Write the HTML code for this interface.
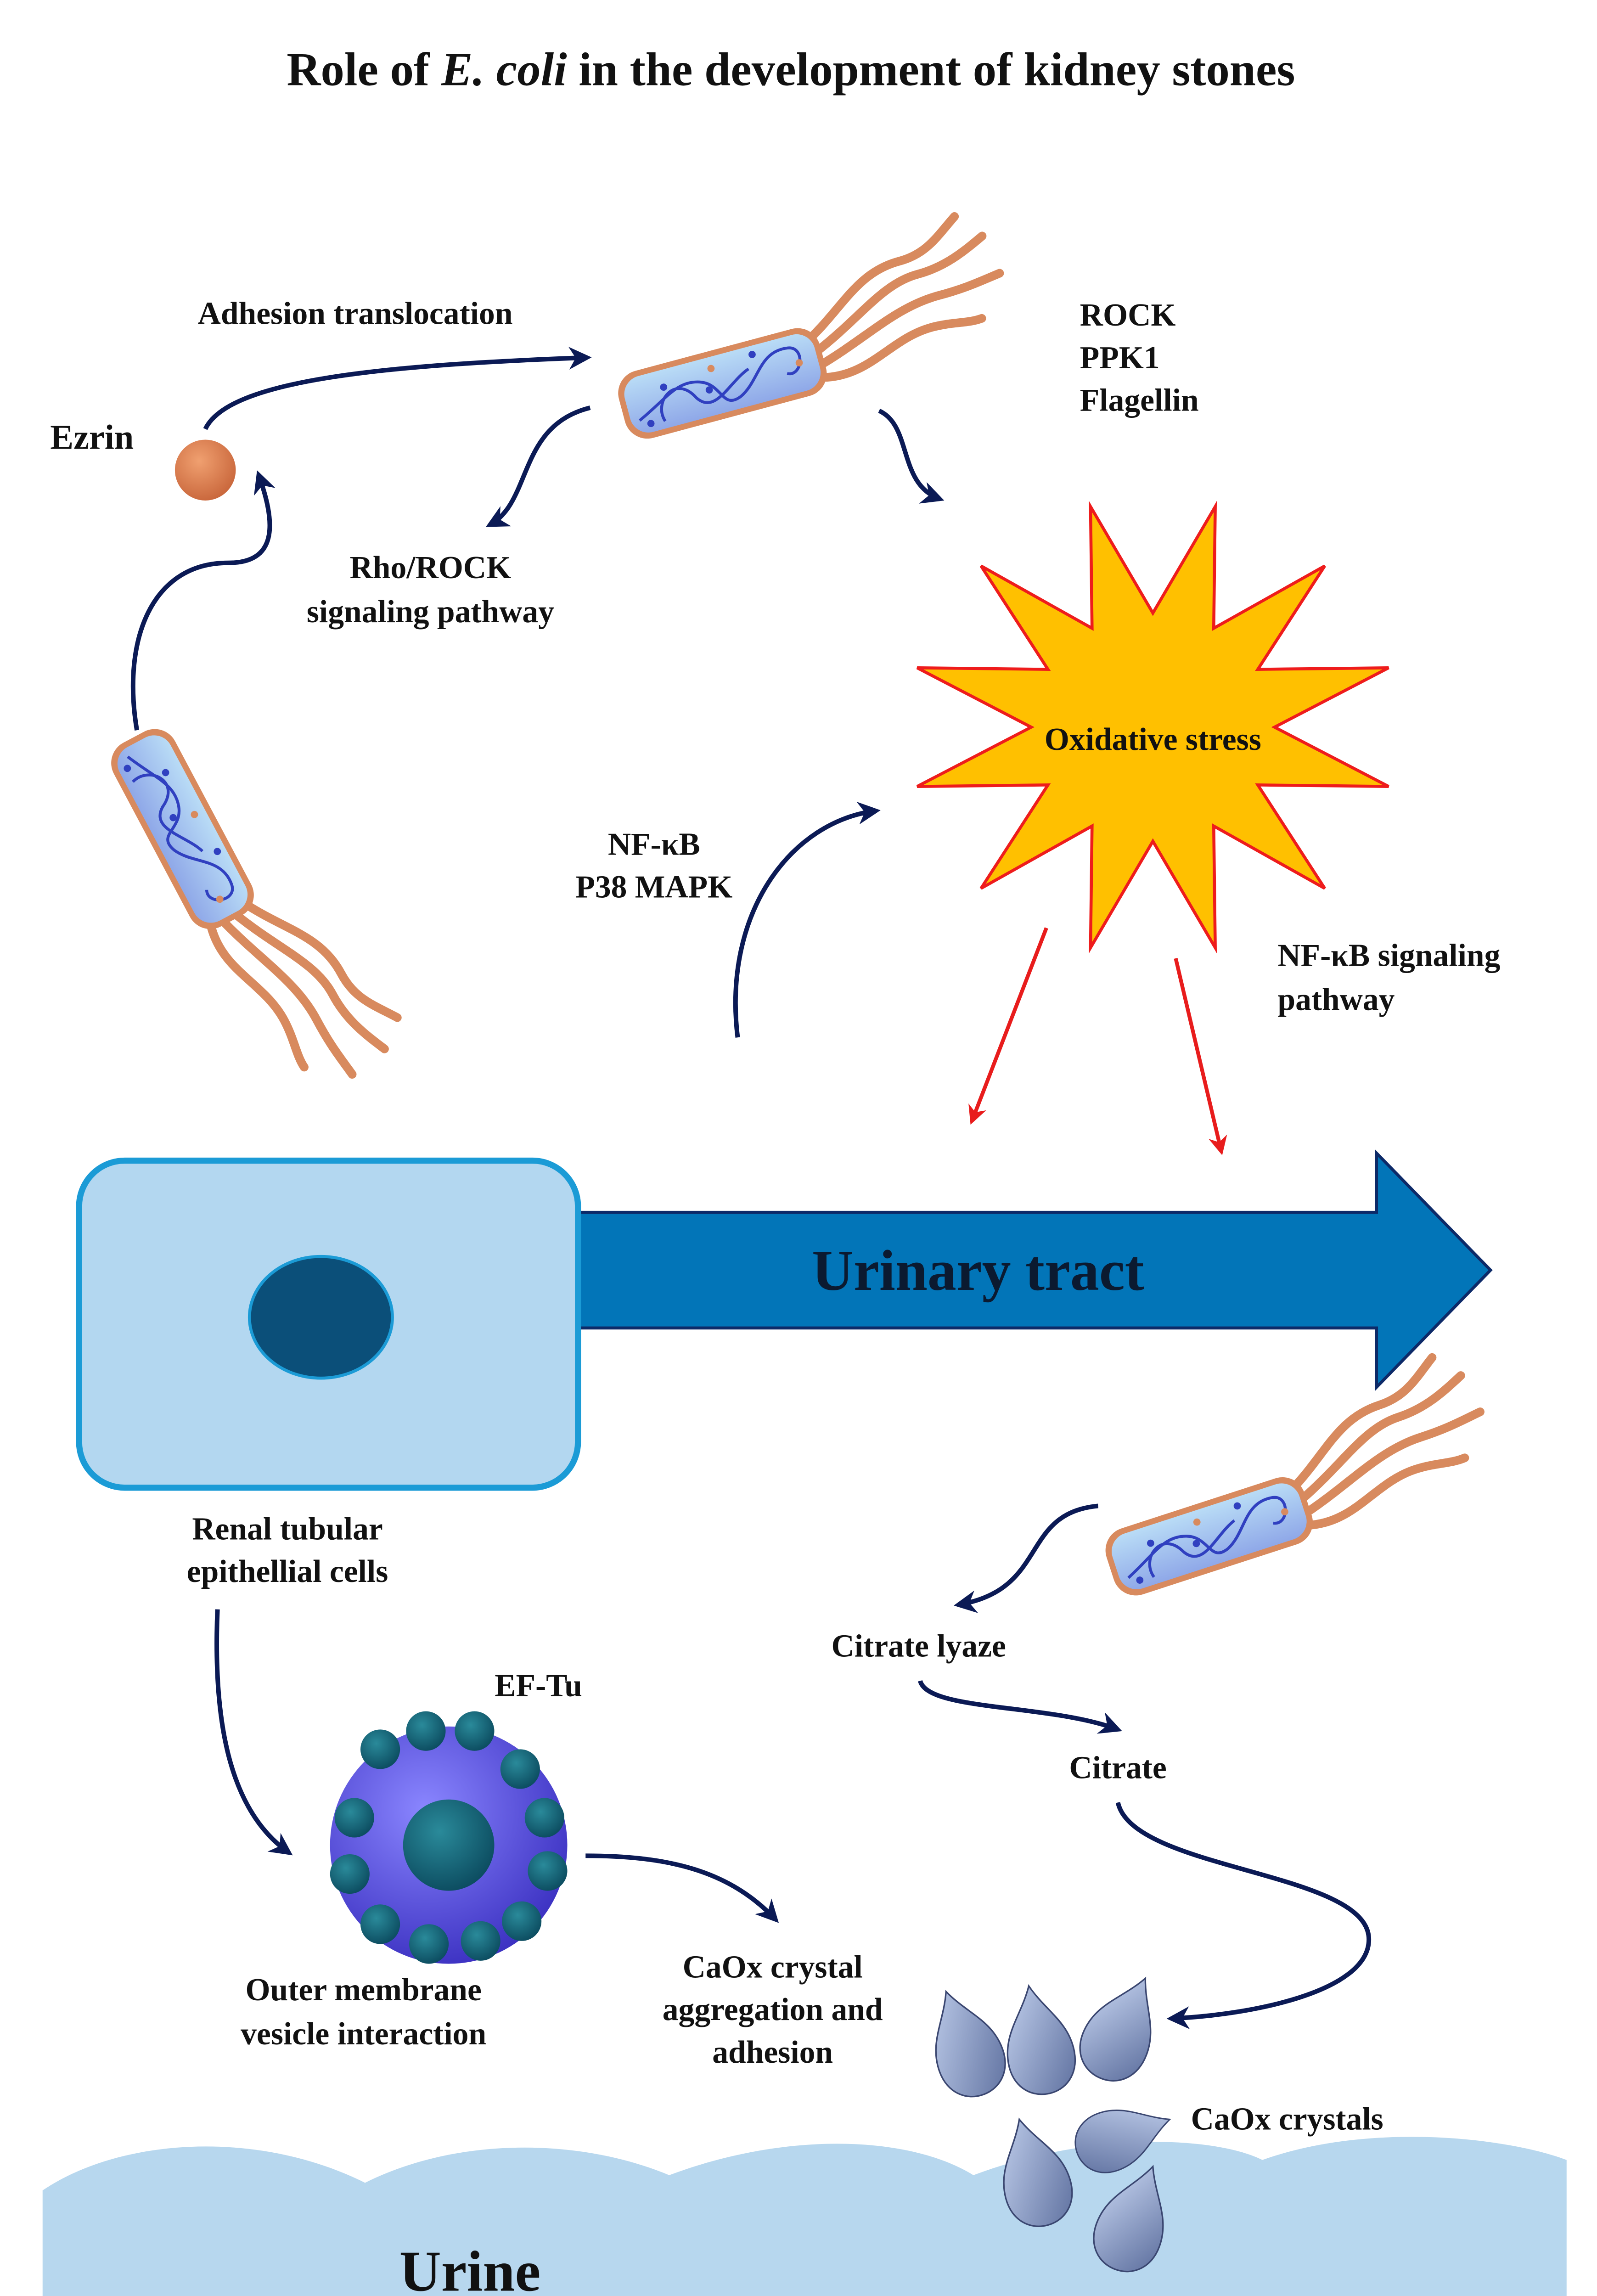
<!DOCTYPE html>
<html><head><meta charset="utf-8"><style>
html,body{margin:0;padding:0;background:#fff;width:3478px;height:5171px;overflow:hidden;}
svg{display:block;position:absolute;left:0;top:0;}
text{font-family:"Liberation Serif",serif;font-weight:bold;fill:#111;}
</style></head><body>
<svg width="3478" height="5171" viewBox="0 0 1050 1561" xmlns="http://www.w3.org/2000/svg">
<defs>
<marker id="ah" viewBox="0 0 10 10" refX="8" refY="5" markerWidth="5" markerHeight="5" orient="auto"><path d="M0,0 L10,5 L0,10 L3,5 Z" fill="#0b1a55"/></marker>
<marker id="ar" viewBox="0 0 10 10" refX="8" refY="5" markerWidth="5" markerHeight="5" orient="auto"><path d="M0,0 L10,5 L0,10 L3,5 Z" fill="#e81c1c"/></marker>
<linearGradient id="bg" x1="0" y1="0" x2="0" y2="1"><stop offset="0" stop-color="#b9dcf6"/><stop offset="1" stop-color="#8fa8e8"/></linearGradient>
<radialGradient id="vg" cx="0.4" cy="0.35" r="0.7"><stop offset="0" stop-color="#8a86ff"/><stop offset="1" stop-color="#3a2fc0"/></radialGradient>
<radialGradient id="tg" cx="0.4" cy="0.35" r="0.7"><stop offset="0" stop-color="#2a8a9a"/><stop offset="1" stop-color="#0b4a5e"/></radialGradient>
<radialGradient id="og" cx="0.4" cy="0.35" r="0.7"><stop offset="0" stop-color="#f0a070"/><stop offset="1" stop-color="#c8653a"/></radialGradient>
<linearGradient id="cg" x1="0" y1="0" x2="1" y2="1"><stop offset="0" stop-color="#c8d6f2"/><stop offset="1" stop-color="#5d6f9e"/></linearGradient>
<g id="bac">
 <g fill="none" stroke="#d88a5e" stroke-linecap="round">
  <path d="M66,-14 C95,-30 110,-50 140,-50 C160,-50 170,-60 185,-70" stroke-width="6"/>
  <path d="M70,-5 C105,-20 125,-38 150,-38 C170,-38 185,-45 200,-52" stroke-width="6"/>
  <path d="M70,5 C105,-5 130,-20 160,-20 C180,-20 190,-22 205,-24" stroke-width="6"/>
  <path d="M68,14 C100,22 120,0 150,0 C165,0 175,4 185,3" stroke-width="6"/>
 </g>
 <rect x="-72" y="-24" width="144" height="48" rx="16" fill="#d88a5e"/>
 <rect x="-68" y="-20" width="136" height="40" rx="13" fill="url(#bg)"/>
 <path d="M-62,10 C-40,0 -30,-10 -15,-5 C0,0 -5,18 10,12 C25,5 30,-15 50,-12 C62,-10 55,10 45,5" fill="none" stroke="#3040c0" stroke-width="2"/>
 <path d="M-45,15 C-50,0 -30,-15 -20,5 C-10,20 5,0 20,-5" fill="none" stroke="#3040c0" stroke-width="2"/>
 <circle cx="-40" cy="-8" r="2.5" fill="#3040c0"/><circle cx="25" cy="-14" r="2.5" fill="#3040c0"/>
 <circle cx="-55" cy="14" r="2.5" fill="#3040c0"/><circle cx="-10" cy="2" r="2.5" fill="#3040c0"/>
 <circle cx="-5" cy="-12" r="2.5" fill="#d88a5e"/><circle cx="55" cy="0" r="2.5" fill="#d88a5e"/>
</g>
<path id="drop" d="M0,-38 C8,-20 22,-10 22,10 C22,25 12,34 0,34 C-12,34 -22,25 -22,10 C-22,-10 -8,-20 0,-38 Z" fill="url(#cg)" stroke="#3a4670" stroke-width="1"/>
</defs>

<text x="520" y="56" font-size="31" text-anchor="middle">Role of <tspan font-style="italic">E. coli</tspan> in the development of kidney stones</text>

<text x="33" y="295" font-size="23">Ezrin</text>
<circle cx="135" cy="309" r="20" fill="url(#og)"/>
<path d="M135,282 C150,250 250,240 386,235" fill="none" stroke="#0b1a55" stroke-width="3" marker-end="url(#ah)"/>
<text x="130" y="213" font-size="21">Adhesion translocation</text>
<use href="#bac" transform="translate(475,252) rotate(-15) scale(0.95)"/>
<text x="710" y="214" font-size="21">ROCK</text>
<text x="710" y="242" font-size="21">PPK1</text>
<text x="710" y="270" font-size="21">Flagellin</text>
<path d="M388,268 C340,280 350,330 322,345" fill="none" stroke="#0b1a55" stroke-width="3" marker-end="url(#ah)"/>
<text x="283" y="380" font-size="21" text-anchor="middle">Rho/ROCK</text>
<text x="283" y="409" font-size="21" text-anchor="middle">signaling pathway</text>
<path d="M578,270 C600,280 590,318 618,328" fill="none" stroke="#0b1a55" stroke-width="3" marker-end="url(#ah)"/>

<polygon points="799,333 798,413 871,372 827,440 913,439 838,478 913,517 827,516 871,584 798,543 799,623 758,553 717,623 718,543 645,584 689,516 603,517 678,478 603,439 689,440 645,372 718,413 717,333 758,403" fill="#ffc000" stroke="#ee1c1c" stroke-width="2"/>
<text x="758" y="493" font-size="21" text-anchor="middle">Oxidative stress</text>

<use href="#bac" transform="translate(120,545) rotate(62) scale(0.95)"/>
<path d="M90,480 C80,420 100,370 150,370 C185,370 180,340 170,312" fill="none" stroke="#0b1a55" stroke-width="3" marker-end="url(#ah)"/>

<text x="430" y="562" font-size="21" text-anchor="middle">NF-κB</text>
<text x="430" y="590" font-size="21" text-anchor="middle">P38 MAPK</text>
<path d="M485,682 C475,600 520,540 576,533" fill="none" stroke="#0b1a55" stroke-width="3" marker-end="url(#ah)"/>
<line x1="688" y1="610" x2="639" y2="737" stroke="#e81c1c" stroke-width="2.5" marker-end="url(#ar)"/>
<line x1="773" y1="630" x2="803" y2="757" stroke="#e81c1c" stroke-width="2.5" marker-end="url(#ar)"/>
<text x="840" y="635" font-size="21">NF-κB signaling</text>
<text x="840" y="664" font-size="21">pathway</text>

<polygon points="380,797 905,797 905,758 980,835 905,912 905,873 380,873" fill="#0275b8" stroke="#0d2a68" stroke-width="2"/>
<rect x="52" y="763" width="328" height="215" rx="30" fill="#b3d7f0" stroke="#1b9bd6" stroke-width="4"/>
<ellipse cx="211" cy="866" rx="47" ry="40" fill="#0b4f79" stroke="#1b9bd6" stroke-width="2"/>
<text x="643" y="848" font-size="38" text-anchor="middle" style="fill:#0b1a30">Urinary tract</text>
<text x="189" y="1012" font-size="21" text-anchor="middle">Renal tubular</text>
<text x="189" y="1040" font-size="21" text-anchor="middle">epithellial cells</text>
<path d="M143,1058 C140,1130 150,1190 190,1218" fill="none" stroke="#0b1a55" stroke-width="3" marker-end="url(#ah)"/>

<g>
<circle cx="295" cy="1213" r="78" fill="url(#vg)"/>
<g fill="url(#tg)">
<circle cx="250" cy="1150" r="13"/><circle cx="280" cy="1138" r="13"/><circle cx="312" cy="1138" r="13"/><circle cx="342" cy="1163" r="13"/>
<circle cx="233" cy="1195" r="13"/><circle cx="358" cy="1195" r="13"/><circle cx="230" cy="1232" r="13"/><circle cx="360" cy="1230" r="13"/>
<circle cx="250" cy="1265" r="13"/><circle cx="343" cy="1263" r="13"/><circle cx="282" cy="1278" r="13"/><circle cx="316" cy="1276" r="13"/>
</g>
<circle cx="295" cy="1213" r="30" fill="url(#tg)"/>
</g>
<text x="354" y="1115" font-size="21" text-anchor="middle">EF-Tu</text>
<text x="239" y="1315" font-size="21" text-anchor="middle">Outer membrane</text>
<text x="239" y="1344" font-size="21" text-anchor="middle">vesicle interaction</text>
<path d="M385,1220 C440,1220 480,1230 510,1262" fill="none" stroke="#0b1a55" stroke-width="3" marker-end="url(#ah)"/>
<text x="508" y="1300" font-size="21" text-anchor="middle">CaOx crystal</text>
<text x="508" y="1328" font-size="21" text-anchor="middle">aggregation and</text>
<text x="508" y="1356" font-size="21" text-anchor="middle">adhesion</text>

<use href="#bac" transform="translate(795,1010) rotate(-18) scale(0.95)"/>
<path d="M722,990 C670,995 690,1045 630,1055" fill="none" stroke="#0b1a55" stroke-width="3" marker-end="url(#ah)"/>
<text x="604" y="1089" font-size="21" text-anchor="middle">Citrate lyaze</text>
<path d="M605,1105 C610,1125 690,1120 735,1137" fill="none" stroke="#0b1a55" stroke-width="3" marker-end="url(#ah)"/>
<text x="735" y="1169" font-size="21" text-anchor="middle">Citrate</text>
<path d="M735,1185 C745,1230 900,1230 900,1275 C900,1310 820,1325 770,1327" fill="none" stroke="#0b1a55" stroke-width="3" marker-end="url(#ah)"/>

<path d="M28,1545 L28,1440 C80,1405 170,1400 240,1435 C300,1405 380,1405 440,1430 C520,1400 600,1405 640,1430 C720,1400 800,1405 830,1420 C900,1395 990,1405 1030,1420 L1030,1545 Z" fill="#b7d7ee"/>
<text x="309" y="1506" font-size="38" text-anchor="middle">Urine</text>

<use href="#drop" transform="translate(635,1345) rotate(-20)"/>
<use href="#drop" transform="translate(683,1343) rotate(-10)"/>
<use href="#drop" transform="translate(737,1335) rotate(25)"/>
<use href="#drop" transform="translate(737,1405) rotate(70) scale(0.9)"/>
<use href="#drop" transform="translate(680,1430) rotate(-15)"/>
<use href="#drop" transform="translate(745,1460) rotate(20)"/>
<text x="783" y="1400" font-size="21">CaOx crystals</text>
</svg>
</body></html>
